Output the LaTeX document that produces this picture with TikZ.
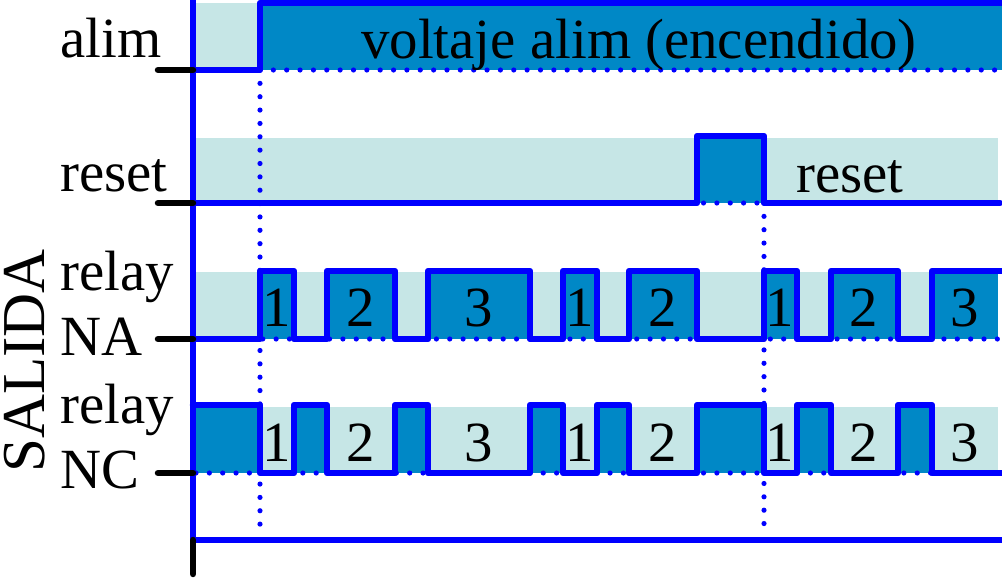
\documentclass[tikz,border=0pt]{standalone}
\usepackage{fontspec}
\setmainfont{Liberation Serif}

\definecolor{bandlight}{RGB}{198,230,230}
\definecolor{banddark}{RGB}{0,136,198}

\begin{document}
\begin{tikzpicture}[x=0.03cm,y=-0.03cm]

\tikzset{band/.style = {fill=bandlight}}
\tikzset{pulse/.style = {fill=banddark}}
\tikzset{wave/.style = {draw=blue, line width=5.5pt, line join=round, line cap=round}}
\tikzset{axis/.style = {draw=blue, line width=5.5pt, line join=round}}
\tikzset{dots/.style = {draw=blue, line width=4.4pt, line cap=round, dash pattern=on 0pt off 11.4pt}}
\tikzset{tick/.style = {draw=black, line width=5.5pt, line cap=round}}
\tikzset{lbl/.style = {anchor=base west, inner sep=0, font=\fontsize{48.5}{58}\selectfont}}
\tikzset{num/.style = {anchor=base, inner sep=0, font=\fontsize{48.5}{58}\selectfont}}

\useasboundingbox (0,0) rectangle (1002,577);

%bands
\fill[band] (193,3) rectangle (1002,70);
\fill[band] (193,138) rectangle (998,203);
\fill[band] (193,272) rectangle (998,339);
\fill[band] (193,407) rectangle (998,473);
%pulses
\fill[pulse] (260,3) rectangle (1002,70);
\fill[pulse] (697,136) rectangle (764,203);
\foreach \a/\b in {260/294,327/395,428/530,563/597,629/697,764/797,831/898,932/998}
  \fill[pulse] (\a,271) rectangle (\b,339);
\foreach \a/\b in {193/260,294/327,395/428,530/563,597/629,697/764,797/831,898/932}
  \fill[pulse] (\a,405) rectangle (\b,473);

%markers
\coordinate (on) at (260,70);
\coordinate (onEnd) at (260,527);
\coordinate (rst) at (764,203);
\coordinate (rstEnd) at (764,527);
\draw[dots] (on) -- (onEnd);
\draw[dots] (rst) -- (rstEnd);
\draw[dots] (on) -- (1002,70);
\draw[dots] (196,203) -- (1002,203);
\draw[dots] (196,339) -- (1002,339);
\draw[dots] (196,473) -- (1002,473);

%signals
\draw[wave] (193,70) -- (on) -- (260,3) -- (1002,3);
\draw[wave] (193,203) -- (697,203) -- (697,136) -- (764,136) -- (rst) -- (1000,203);
\draw[wave] (193,339) \foreach \a/\b in {260/294,327/395,428/530,563/597,629/697,764/797,831/898}
  { -- (\a,339) -- (\a,271) -- (\b,271) -- (\b,339) } -- (932,339) -- (932,271) -- (1002,271);
\draw[wave] (193,405) -- (260,405) -- (260,473) \foreach \a/\b in {294/327,395/428,530/563,597/629,697/764,797/831,898/932}
  { -- (\a,473) -- (\a,405) -- (\b,405) -- (\b,473) } -- (1002,473);

%axes
\coordinate (top) at (193,0);
\coordinate (origin) at (193,540);
\coordinate (right) at (1002,540);
\coordinate (foot) at (193,574);
\draw[axis] (top) -- (origin) -- (right);
\draw[tick] (origin) -- (foot);
\foreach \y in {70,203,339,473}
  \draw[tick] (158,\y) -- (193,\y);

%labels
\node[lbl] (alim) at (60,57) {alim};
\node[lbl] (reset) at (60,191) {reset};
\node[lbl] (relayNA) at (60,290) {relay};
\node[lbl] (NA) at (60,355) {NA};
\node[lbl] (relayNC) at (60,423) {relay};
\node[lbl] (NC) at (60,488) {NC};
\node[rotate=90, anchor=base, inner sep=0, font=\fontsize{52}{60}\selectfont] (salida) at (44,361) {SALIDA};
\node[num] (alimtxt) at (639,58) {voltaje alim (encendido)};
\node[num] (resettxt) at (850,192) {reset};
\foreach \x/\n in {277/1,361/2,479/3,580/1,663/2,780/1,864/2,965/3}
  {\node[num] (na\x) at (\x,326) {\n};
   \node[num] (nc\x) at (\x,461) {\n};}

\end{tikzpicture}
\end{document}
